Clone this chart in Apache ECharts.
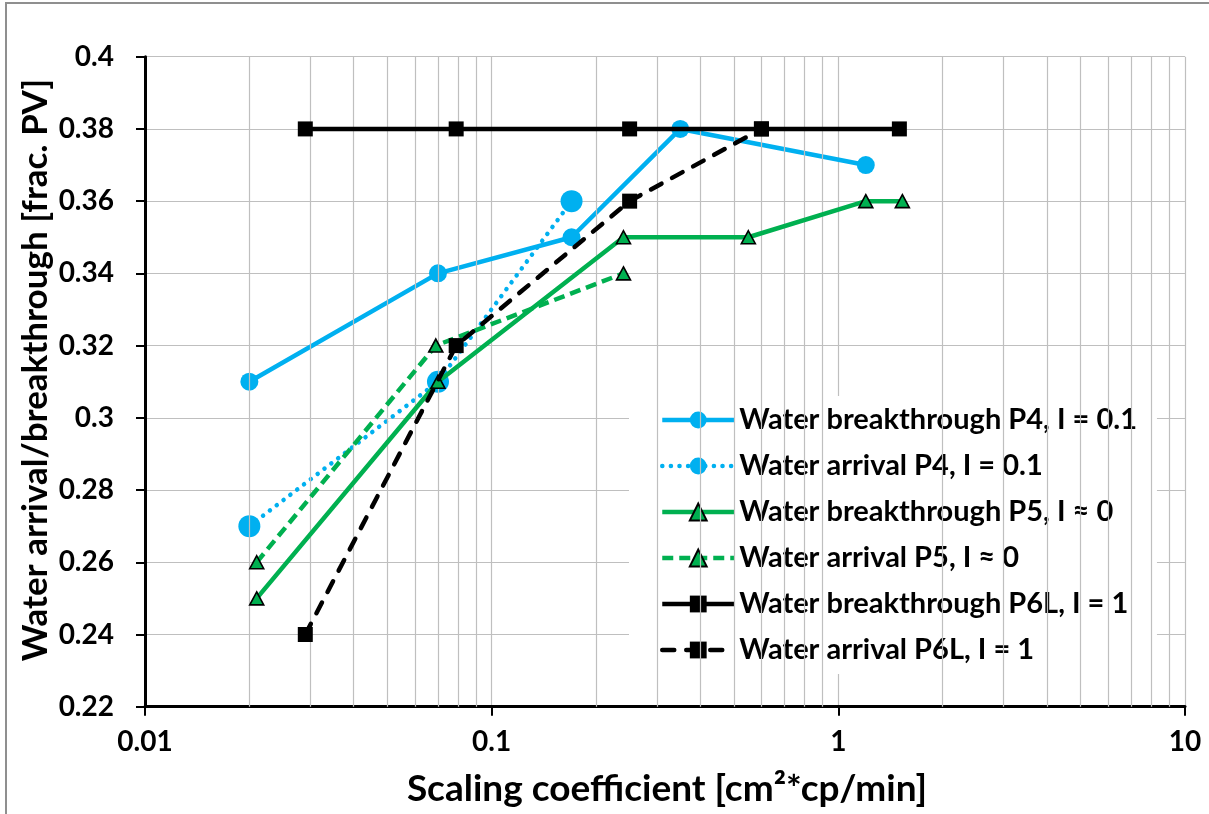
<!DOCTYPE html>
<html><head><meta charset="utf-8">
<script src="https://cdn.jsdelivr.net/npm/echarts@6/dist/echarts.min.js"></script>
<style>
html,body{margin:0;padding:0;background:#fff;overflow:hidden}
#frame{position:absolute;left:5px;top:2px;width:1230px;height:840px;border:2px solid #8f8f8f;box-sizing:border-box}
#c{position:absolute;left:0;top:0;width:1209px;height:814px}
</style></head>
<body><div id="frame"></div><div id="c"></div>
<script>
// ---- data ----
const xTickLabels = [0.01, 0.1, 1, 10];
const yTickLabels = [0.22, 0.24, 0.26, 0.28, 0.3, 0.32, 0.34, 0.36, 0.38, 0.4];
const minorGridX = [0.02,0.03,0.04,0.05,0.06,0.07,0.08,0.09,0.2,0.3,0.4,0.5,0.6,0.7,0.8,0.9,2,3,4,5,6,7,8,9];

const p4BreakX = [0.02, 0.07, 0.17, 0.35, 1.2];
const p4BreakY = [0.31, 0.34, 0.35, 0.38, 0.37];
const p4ArrX = [0.02, 0.07, 0.17];
const p4ArrY = [0.27, 0.31, 0.36];
const p5BreakX = [0.021, 0.07, 0.24, 0.55, 1.2, 1.53];
const p5BreakY = [0.25, 0.31, 0.35, 0.35, 0.36, 0.36];
const p5ArrX = [0.021, 0.069, 0.24];
const p5ArrY = [0.26, 0.32, 0.34];
const p6BreakX = [0.029, 0.079, 0.25, 0.6, 1.5];
const p6BreakY = [0.38, 0.38, 0.38, 0.38, 0.38];
const p6ArrX = [0.029, 0.079, 0.25, 0.6];
const p6ArrY = [0.24, 0.32, 0.36, 0.38];

const names = [
  'Water breakthrough P4, I = 0.1',
  'Water arrival P4, I = 0.1',
  'Water breakthrough P5, I \u2248 0',
  'Water arrival P5, I \u2248 0',
  'Water breakthrough P6L, I = 1',
  'Water arrival P6L, I = 1'
];

const zip = (xs, ys) => xs.map((x, i) => [x, ys[i]]);
const FONT = 'Lato, "Open Sans", sans-serif';
const BLUE = '#00b0f0', GREEN = '#00b050', BLACK = '#000000';
const LW = 4.5;

const chart = echarts.init(document.getElementById('c'), null, {renderer: 'canvas'});
chart.setOption({
  animation: false,
  backgroundColor: 'transparent',
  grid: {left: 145, right: 24, top: 56.7, bottom: 107.3, containLabel: false},
  xAxis: {
    type: 'log', logBase: 10, min: 0.01, max: 10,
    axisLine: {show: true, onZero: false, lineStyle: {color: '#000', width: 3}},
    axisTick: {show: true, length: 9, lineStyle: {color: '#000', width: 2}},
    axisLabel: {margin: 21, color: '#000', fontFamily: FONT, fontWeight: 'bold', fontSize: 28,
      formatter: v => { const m = xTickLabels.find(t => Math.abs(t - v) / t < 1e-6); return m === undefined ? '' : String(m); }},
    splitLine: {show: true, lineStyle: {color: '#bfbfbf', width: 1.2}},
    minorTick: {show: false}, minorSplitLine: {show: false}
  },
  yAxis: {
    type: 'value', min: 0.22, max: 0.4, interval: 0.02,
    axisLine: {show: true, onZero: false, lineStyle: {color: '#000', width: 3}},
    axisTick: {show: true, length: 9, lineStyle: {color: '#000', width: 2}},
    axisLabel: {margin: 31, color: '#000', fontFamily: FONT, fontWeight: 'bold', fontSize: 28,
      formatter: v => { const m = yTickLabels.find(t => Math.abs(t - v) < 1e-6); return m === undefined ? '' : String(m); }},
    splitLine: {show: true, lineStyle: {color: '#bfbfbf', width: 1.2}}
  },
  legend: {
    data: names, orient: 'vertical', left: 629, top: 396,
    padding: [9, 20, 9, 31], itemWidth: 72, itemHeight: 21, itemGap: 16,
    backgroundColor: '#ffffff', selectedMode: false,
    lineStyle: {width: LW},
    textStyle: {fontFamily: FONT, fontWeight: 'bold', fontSize: 29, color: '#000', lineHeight: 30}
  },
  graphic: [
    {type: 'text', x: 36, y: 370, rotation: Math.PI / 2, z: 10,
      style: {text: 'Water arrival/breakthrough [frac. PV]', font: 'bold 35px ' + FONT, fill: '#000', align: 'center', verticalAlign: 'middle'}},
    {type: 'text', x: 667, y: 789, z: 10,
      style: {text: 'Scaling coefficient [cm\u00b2*cp/min]', font: 'bold 37px ' + FONT, fill: '#000', align: 'center', verticalAlign: 'middle'}}
  ],
  series: [
    {type: 'line', data: [], z: 1, silent: true,
      markLine: {silent: true, symbol: 'none', animation: false, label: {show: false},
        lineStyle: {color: '#bfbfbf', width: 1.2, type: 'solid'},
        emphasis: {disabled: true},
        data: minorGridX.map(v => ({xAxis: v}))}},
    {name: names[0], type: 'line', data: zip(p4BreakX, p4BreakY), z: 3,
      symbol: 'circle', symbolSize: 18, itemStyle: {color: BLUE},
      lineStyle: {color: BLUE, width: LW}},
    {name: names[1], type: 'line', data: zip(p4ArrX, p4ArrY), z: 4,
      symbol: 'circle', symbolSize: 22, itemStyle: {color: BLUE},
      lineStyle: {color: BLUE, width: LW, type: [0.1, 8.5], cap: 'round'}},
    {name: names[2], type: 'line', data: zip(p5BreakX, p5BreakY), z: 5,
      symbol: 'triangle', symbolSize: [14, 13], itemStyle: {color: GREEN, borderColor: '#000', borderWidth: 1.6},
      lineStyle: {color: GREEN, width: LW}},
    {name: names[3], type: 'line', data: zip(p5ArrX, p5ArrY), z: 6,
      symbol: 'triangle', symbolSize: [14, 13], itemStyle: {color: GREEN, borderColor: '#000', borderWidth: 1.6},
      lineStyle: {color: GREEN, width: LW, type: [11, 6]}},
    {name: names[4], type: 'line', data: zip(p6BreakX, p6BreakY), z: 7,
      symbol: 'rect', symbolSize: 15, itemStyle: {color: BLACK},
      lineStyle: {color: BLACK, width: LW}},
    {name: names[5], type: 'line', data: zip(p6ArrX, p6ArrY), z: 8,
      symbol: 'rect', symbolSize: 15, itemStyle: {color: BLACK},
      lineStyle: {color: BLACK, width: LW, type: [12, 12], cap: 'round'}}
  ]
});
</script>
</body></html>
